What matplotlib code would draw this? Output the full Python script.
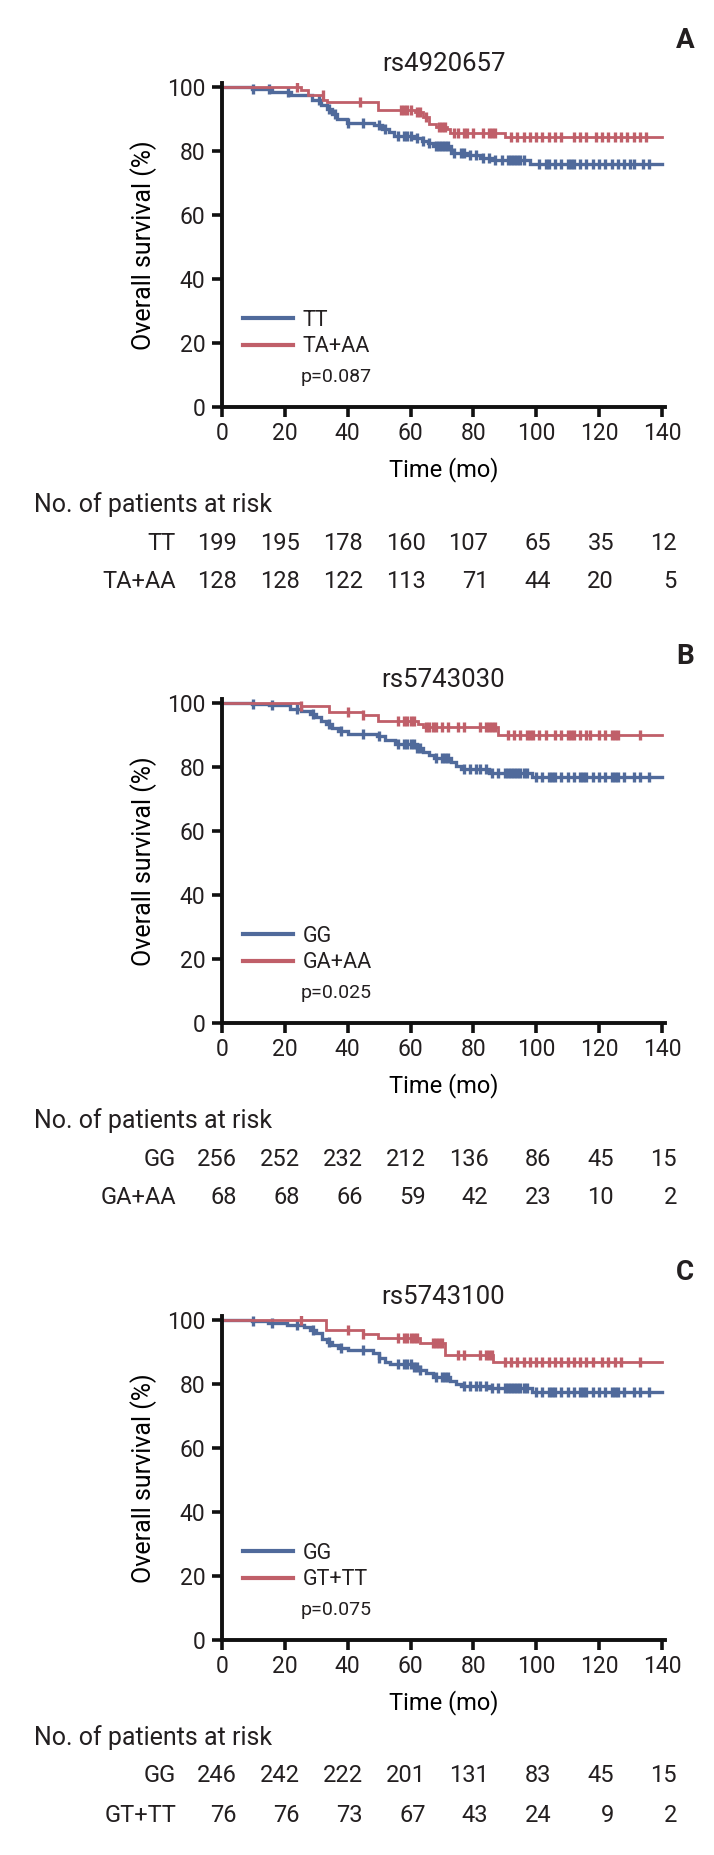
import numpy as np
import matplotlib
matplotlib.use('Agg')
import matplotlib.pyplot as plt
from matplotlib.lines import Line2D

plt.rcParams['font.family'] = ['Roboto', 'DejaVu Sans']
plt.rcParams['text.color'] = '#231f20'

BLUE = '#506A9B'
RED = '#C05F69'

# ---- data
tick_times = [0, 20, 40, 60, 80, 100, 120, 140]

snp_names = ['rs4920657', 'rs5743030', 'rs5743100']
panel_letters = ['A', 'B', 'C']
group_ref = ['TT', 'GG', 'GG']
group_var = ['TA+AA', 'GA+AA', 'GT+TT']
p_values = ['p=0.087', 'p=0.025', 'p=0.075']

# panel A
a_ref_t = [0, 9.5, 16, 22, 28.6, 31.5, 33.5, 35, 36.6, 39.7, 48.5, 51, 53, 54.6, 61, 63.5, 65.5, 67, 73, 78, 82, 86, 98]
a_ref_s = [100, 99.4, 98.4, 97.4, 95.8, 94.5, 93, 91.5, 90.1, 88.8, 88.0, 87, 85.8, 84.8, 84.0, 83.2, 82.5, 81.6, 79.4, 78.6, 77.8, 77.1, 75.9]
a_ref_cens = [10, 15, 21, 31, 34, 36, 40, 45, 50, 52, 56, 58, 59, 60, 62, 64, 66, 68, 69, 70, 71, 72, 74, 76, 77,
              79, 81, 83, 85, 87, 89, 91, 92, 93, 94, 95, 96, 101, 103, 104, 106, 108, 110, 111, 112, 114, 116, 118,
              120, 122, 124, 126, 128, 130, 131, 134, 136]
a_var_t = [0, 25, 27.5, 32.3, 33.5, 49.8, 61.5, 64, 66, 68, 71.5, 72.5, 90]
a_var_s = [100, 99.2, 97.6, 95.8, 95.3, 92.8, 92.2, 90.6, 88.5, 87.6, 86.8, 85.7, 84.5]
a_var_cens = [24, 32, 44, 57, 58, 59, 60, 62, 63, 65, 69, 70, 71, 74, 75, 77, 78, 80, 83, 85, 86, 87, 92, 94, 96,
              98, 100, 102, 104, 106, 108, 112, 114, 116, 119, 121, 123, 125, 127, 129, 131, 133, 135]

# panel B
b_ref_t = [0, 9.5, 15, 21.7, 25, 28, 30, 31.5, 33, 35, 37, 40, 49.3, 52, 55, 62, 64, 66, 67.5, 73, 74.5, 76, 85, 98.6]
b_ref_s = [100, 99.6, 99.3, 98.2, 97.5, 96.5, 95.5, 94.3, 93.5, 92.3, 91.3, 90.4, 89.6, 88.5, 87.3, 86.0, 84.8,
           83.6, 82.8, 81.5, 80.3, 79.5, 78.2, 77.0]
b_ref_cens = [10, 16, 24, 29, 34, 38, 45, 50, 56, 58, 59, 60, 61, 62, 63, 68, 70, 71, 72, 77, 79, 81, 82, 84, 86,
              88, 90, 91, 92, 93, 94, 95, 96, 97, 100, 102, 104, 105, 106, 108, 110, 112, 114, 115, 116, 118, 120,
              122, 124, 125, 126, 128, 131, 133, 136]
b_var_t = [0, 25, 33.9, 45, 49.8, 62.5, 64, 88]
b_var_s = [100, 99.0, 97.3, 96.1, 94.5, 93.3, 92.5, 90.0]
b_var_cens = [25, 40, 45, 56, 58, 59, 60, 61, 65, 66, 67, 68, 70, 72, 75, 77, 82, 84, 85, 86, 87, 91, 93, 95, 97,
              98, 99, 101, 103, 106, 108, 110, 111, 112, 114, 116, 117, 120, 122, 124, 125, 126, 133]

# panel C
c_ref_t = [0, 9.5, 14.8, 20.7, 26, 28, 30, 31.8, 33.5, 35, 37, 40, 48, 50, 52, 53.5, 61, 63, 65, 67, 72.6, 74.5,
           76, 85, 98.6]
c_ref_s = [100, 99.7, 99.2, 98.5, 97.9, 96.8, 95.8, 94.2, 93.2, 92.2, 91.3, 90.6, 89.6, 88.2, 87.0, 86.2, 85.4,
           84.3, 83.3, 82.2, 81.0, 79.9, 79.4, 78.6, 77.4]
c_ref_cens = b_ref_cens
c_var_t = [0, 33, 45, 49.8, 63, 71, 86.4]
c_var_s = [100, 96.8, 95.6, 94.3, 92.8, 89.2, 86.8]
c_var_cens = [25, 40, 45, 56, 58, 59, 60, 61, 62, 67, 68, 69, 70, 75, 77, 82, 84, 85, 86, 90, 92, 94, 96, 98, 100,
              102, 104, 106, 108, 110, 112, 114, 116, 118, 121, 123, 125, 127, 133]

# numbers at risk
a_risk_ref = [199, 195, 178, 160, 107, 65, 35, 12]
a_risk_var = [128, 128, 122, 113, 71, 44, 20, 5]
b_risk_ref = [256, 252, 232, 212, 136, 86, 45, 15]
b_risk_var = [68, 68, 66, 59, 42, 23, 10, 2]
c_risk_ref = [246, 242, 222, 201, 131, 83, 45, 15]
c_risk_var = [76, 76, 73, 67, 43, 24, 9, 2]

curves = [
    ((a_ref_t, a_ref_s, a_ref_cens), (a_var_t, a_var_s, a_var_cens), a_risk_ref, a_risk_var),
    ((b_ref_t, b_ref_s, b_ref_cens), (b_var_t, b_var_s, b_var_cens), b_risk_ref, b_risk_var),
    ((c_ref_t, c_ref_s, c_ref_cens), (c_var_t, c_var_s, c_var_cens), c_risk_ref, c_risk_var),
]


def surv_at(t_steps, s_steps, t):
    idx = np.searchsorted(np.asarray(t_steps), np.asarray(t), side='right') - 1
    return np.asarray(s_steps)[idx]


def draw_km(ax, t_steps, s_steps, cens, color, lw):
    t = list(t_steps) + [140]
    s = list(s_steps) + [s_steps[-1]]
    ax.step(t, s, where='post', color=color, lw=lw, solid_joinstyle='miter')
    ax.plot(cens, surv_at(t_steps, s_steps, cens), ls='none', marker='|', ms=6.5, mew=2.4, color=color)


W, H = 714, 1855
fig = plt.figure(figsize=(W / 100, H / 100), dpi=100)

x_left = 222
ax_w = 443          # pixels, covers 0..141
y100_px = [87, 703, 1320]
XMAX, YMAX = 141, 101.2
ax_h = 320 * YMAX / 100
FS = 17

for i in range(3):
    (ref, var, risk_ref, risk_var) = curves[i]
    y0_px = y100_px[i] + 320
    ax = fig.add_axes([x_left / W, 1 - y0_px / H, ax_w / W, ax_h / H])

    draw_km(ax, *ref, BLUE, 2.4)
    draw_km(ax, *var, RED, 2.0)

    ax.set_xlim(0, XMAX)
    ax.set_ylim(0, YMAX)
    ax.set_xticks(tick_times)
    ax.set_yticks([0, 20, 40, 60, 80, 100])
    for side in ['top', 'right']:
        ax.spines[side].set_visible(False)
    for side in ['left', 'bottom']:
        ax.spines[side].set_linewidth(2.8)
        ax.spines[side].set_color('#111111')
    ax.tick_params(width=2.6, length=7, labelsize=16.5, colors='#111111', labelcolor='#231f20')
    ax.tick_params(axis='y', pad=5)
    ax.tick_params(axis='x', pad=4)

    ax.set_title(snp_names[i], fontsize=18.5, pad=9)
    ax.set_xlabel('Time (mo)', fontsize=17, va='center')
    ax.xaxis.set_label_coords(0.5, -63 / ax_h)
    ax.set_ylabel('Overall survival (%)', fontsize=18, va='center')
    ax.yaxis.set_label_coords(-0.176, 0.5)

    fig.text(685 / W, 1 - (y100_px[i] - 47) / H, panel_letters[i], fontsize=20, fontweight='bold',
             ha='center', va='center')

    handles = [Line2D([], [], color=BLUE, lw=3), Line2D([], [], color=RED, lw=3)]
    ax.legend(handles, [group_ref[i], group_var[i]], loc='center left', bbox_to_anchor=(6.7 / XMAX, 23 / YMAX),
              frameon=False, fontsize=15.5, handlelength=2.3, handletextpad=0.45, labelspacing=0.25,
              borderpad=0, borderaxespad=0)
    ax.text(25, 9.5, p_values[i], fontsize=14, va='center', ha='left')

    # number at risk table
    tr = ax.get_xaxis_transform()
    ax.text(-59.8, -98 / ax_h, 'No. of patients at risk', transform=tr, fontsize=18, ha='left', va='center',
            clip_on=False)
    dx = 15 / ax_w * XMAX
    lab_x = (176 - x_left) / ax_w * XMAX
    for row_y, name, vals in [(-136 / ax_h, group_ref[i], risk_ref), (-175 / ax_h, group_var[i], risk_var)]:
        ax.text(lab_x, row_y, name, transform=tr, fontsize=FS, ha='right', va='center', clip_on=False)
        for tt, v in zip(tick_times, vals):
            ax.text(tt + dx, row_y, str(v), transform=tr, fontsize=FS, ha='right', va='center', clip_on=False)

fig.savefig('out.png', dpi=100)
